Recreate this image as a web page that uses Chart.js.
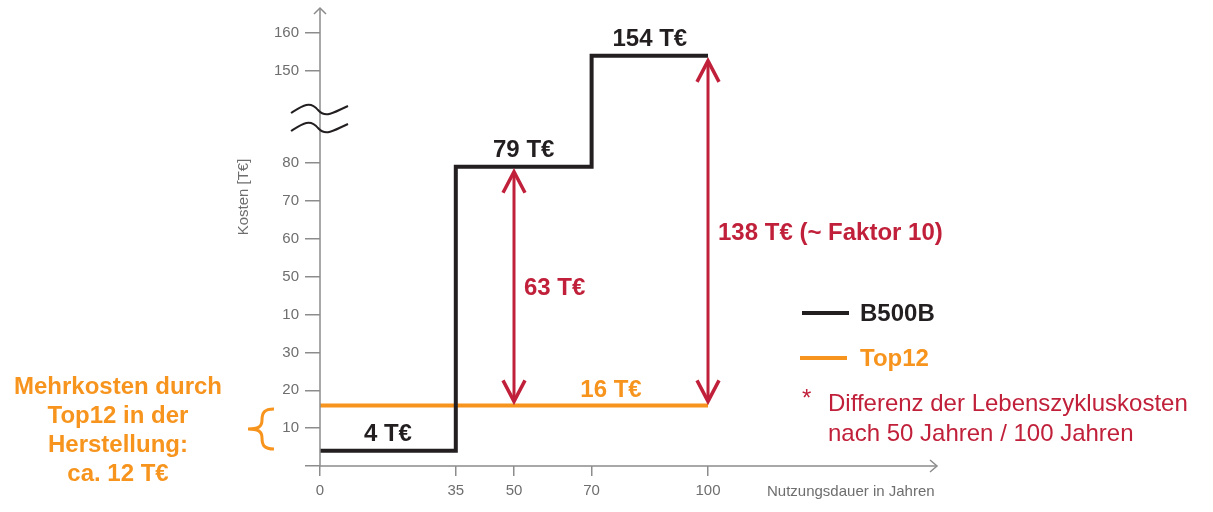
<!DOCTYPE html>
<html>
<head>
<meta charset="utf-8">
<script src="https://cdn.jsdelivr.net/npm/chart.js@4.4.1/dist/chart.umd.min.js"></script>
<style>
  body { margin: 0; background: #fff; }
  #wrap { width: 1213px; height: 512px; }
</style>
</head>
<body>
<div id="wrap"><canvas id="cost_chart" width="1213" height="512"></canvas></div>
<script>
// Lebenszykluskosten B500B vs. Top12
var years = [0, 35, 70, 100];
var b500b = [4, 79, 154, 154];
var top12Years = [0, 100];
var top12 = [16, 16];

var xTicks = [0, 35, 50, 70, 100];
var yTickValues = [0, 10, 20, 30, 40, 50, 60, 70, 80, 150, 160];
var yTickLabels = ['', '10', '20', '30', '10', '50', '60', '70', '80', '150', '160'];

var diffYears = [50, 100];
var diffLabels = ['63 T€', '138 T€ (~ Faktor 10)'];

var stepLabels = ['4 T€', '79 T€', '154 T€'];
var top12Label = '16 T€';
var noteLines = ['Mehrkosten durch', 'Top12 in der', 'Herstellung:', 'ca. 12 T€'];
var footNote = ['Differenz der Lebenszykluskosten', 'nach 50 Jahren / 100 Jahren'];

var BLACK = '#231f20', ORANGE = '#f7941d', RED = '#c1203a', GREY = '#8c8c8c', TICKTXT = '#6e6e6e';
var FONT = "'Liberation Sans', Arial, sans-serif";

// values above the break are pulled down onto the lower part of the axis
var BREAK_AT = 100, BREAK_SHIFT = 45.7;
function toAxis(v) { return v > BREAK_AT ? v - BREAK_SHIFT : v; }

function valueAt(xs, ys, x) {
    var v = ys[0];
    for (var i = 0; i < xs.length; i++) { if (xs[i] <= x) v = ys[i]; }
    return v;
}

function pts(xs, ys) {
    var out = [];
    for (var i = 0; i < xs.length; i++) out.push({x: xs[i], y: toAxis(ys[i])});
    return out;
}

function arrowHead(ctx, x, y, dir) {
    ctx.beginPath();
    ctx.moveTo(x - 11, y + dir * 21);
    ctx.lineTo(x, y);
    ctx.lineTo(x + 11, y + dir * 21);
    ctx.stroke();
}

var extras = {
    id: 'extras',
    afterDatasetsDraw: function(chart) {
        var ctx = chart.ctx, xs = chart.scales.x, ys = chart.scales.y, area = chart.chartArea;
        var x0 = xs.getPixelForValue(0), y0 = ys.getPixelForValue(0);
        ctx.save();

        // axes with open arrow heads
        ctx.strokeStyle = GREY; ctx.lineWidth = 1.5;
        ctx.beginPath();
        ctx.moveTo(x0, y0); ctx.lineTo(x0, 84);
        ctx.moveTo(x0, 136); ctx.lineTo(x0, 8);
        ctx.moveTo(x0, y0); ctx.lineTo(area.right + 2, y0);
        ctx.stroke();
        ctx.beginPath();
        ctx.moveTo(x0 - 6, 14); ctx.lineTo(x0, 8); ctx.lineTo(x0 + 6, 14);
        ctx.moveTo(area.right - 5, y0 - 6); ctx.lineTo(area.right + 2, y0); ctx.lineTo(area.right - 5, y0 + 6);
        ctx.stroke();

        // axis break
        ctx.strokeStyle = BLACK; ctx.lineWidth = 2;
        [0, 18].forEach(function(dy) {
            ctx.beginPath();
            ctx.moveTo(x0 - 29, 113 + dy);
            ctx.bezierCurveTo(x0 - 18, 106 + dy, x0 - 10, 100 + dy, x0 - 2, 110 + dy);
            ctx.bezierCurveTo(x0 + 6, 119 + dy, x0 + 14, 112 + dy, x0 + 28, 106 + dy);
            ctx.stroke();
        });

        // axis titles
        ctx.fillStyle = TICKTXT;
        ctx.font = '15px ' + FONT;
        ctx.textBaseline = 'middle';
        ctx.textAlign = 'left';
        ctx.fillText('Nutzungsdauer in Jahren', 767, 492);
        ctx.save();
        ctx.translate(244, 197);
        ctx.rotate(-Math.PI / 2);
        ctx.textAlign = 'center';
        ctx.fillText('Kosten [T€]', 0, 0);
        ctx.restore();

        // difference arrows
        ctx.strokeStyle = RED; ctx.fillStyle = RED;
        ctx.font = 'bold 24px ' + FONT;
        ctx.textAlign = 'left';
        diffYears.forEach(function(yr, i) {
            var px = xs.getPixelForValue(yr);
            var top = ys.getPixelForValue(toAxis(valueAt(years, b500b, yr))) + 5;
            var bot = ys.getPixelForValue(toAxis(valueAt(top12Years, top12, yr))) - 4;
            ctx.lineWidth = 3;
            ctx.beginPath(); ctx.moveTo(px, top + 2); ctx.lineTo(px, bot - 2); ctx.stroke();
            ctx.lineWidth = 3.5;
            arrowHead(ctx, px, top, 1);
            arrowHead(ctx, px, bot, -1);
            ctx.fillText(diffLabels[i], px + 10, (top + bot) / 2 + 2);
        });

        // step values
        ctx.textAlign = 'center';
        ctx.fillStyle = BLACK;
        for (var i = 0; i < stepLabels.length; i++) {
            var mid = (years[i] + years[i + 1]) / 2;
            ctx.fillText(stepLabels[i], xs.getPixelForValue(mid), ys.getPixelForValue(toAxis(b500b[i])) - 16);
        }
        ctx.fillStyle = ORANGE;
        ctx.fillText(top12Label, xs.getPixelForValue(75), ys.getPixelForValue(top12[1]) - 15);

        // legend
        chart.data.datasets.forEach(function(ds, i) {
            var ly = 313 + i * 45;
            ctx.strokeStyle = ds.borderColor; ctx.lineWidth = 4;
            ctx.beginPath(); ctx.moveTo(802 - i * 2, ly); ctx.lineTo(849 - i * 2, ly); ctx.stroke();
            ctx.fillStyle = ds.borderColor;
            ctx.textAlign = 'left';
            ctx.fillText(ds.label, 860, ly + 1);
        });
        ctx.fillStyle = RED;
        ctx.font = '24px ' + FONT;
        ctx.fillText('*', 802, 399);
        ctx.fillText(footNote[0], 828, 404);
        ctx.fillText(footNote[1], 828, 434);

        // additional cost note with brace
        ctx.fillStyle = ORANGE;
        ctx.font = 'bold 24px ' + FONT;
        ctx.textAlign = 'center';
        noteLines.forEach(function(t, i) { ctx.fillText(t, 118, 387 + i * 29); });
        ctx.strokeStyle = ORANGE; ctx.lineWidth = 3;
        ctx.beginPath();
        ctx.moveTo(274, 409);
        ctx.bezierCurveTo(264, 409, 262, 413, 262, 420);
        ctx.bezierCurveTo(262, 427, 258, 429, 248, 429);
        ctx.bezierCurveTo(258, 429, 262, 431, 262, 438);
        ctx.bezierCurveTo(262, 445, 264, 449, 274, 449);
        ctx.stroke();

        ctx.restore();
    }
};

Chart.defaults.font.family = FONT;

var ctx = document.getElementById('cost_chart').getContext('2d');
var costChart = new Chart(ctx, {
    type: 'line',
    data: {
        datasets: [{
            label: 'B500B',
            data: pts(years, b500b),
            borderColor: BLACK,
            borderWidth: 4,
            stepped: true,
            pointRadius: 0,
            fill: false,
            borderJoinStyle: 'miter'
        }, {
            label: 'Top12',
            data: pts(top12Years, top12),
            borderColor: ORANGE,
            borderWidth: 4,
            pointRadius: 0,
            fill: false
        }]
    },
    options: {
        responsive: false,
        animation: false,
        layout: { padding: { left: 235, right: 278, top: 10, bottom: 0 } },
        plugins: { legend: { display: false }, tooltip: { enabled: false } },
        scales: {
            x: {
                type: 'linear',
                min: 0,
                max: 158.5,
                afterBuildTicks: function(s) { s.ticks = xTicks.map(function(v) { return {value: v}; }); },
                afterFit: function(s) { s.height = 46; s.paddingLeft = 0; s.paddingRight = 0; },
                ticks: { autoSkip: false, maxRotation: 0, color: TICKTXT, font: { size: 15 }, padding: 6 },
                grid: { drawOnChartArea: false, tickLength: 10, color: GREY, lineWidth: 1.5 },
                border: { display: false }
            },
            y: {
                type: 'linear',
                min: 0,
                max: 120.4,
                afterBuildTicks: function(s) { s.ticks = yTickValues.map(function(v) { return {value: toAxis(v)}; }); },
                afterFit: function(s) { s.width = 85; s.paddingTop = 0; s.paddingBottom = 0; },
                ticks: {
                    autoSkip: false,
                    color: TICKTXT,
                    font: { size: 15 },
                    padding: 6,
                    callback: function(val, i) { return yTickLabels[i]; }
                },
                grid: { drawOnChartArea: false, tickLength: 15, color: GREY, lineWidth: 1.5 },
                border: { display: false }
            }
        }
    },
    plugins: [extras]
});
</script>
</body>
</html>
